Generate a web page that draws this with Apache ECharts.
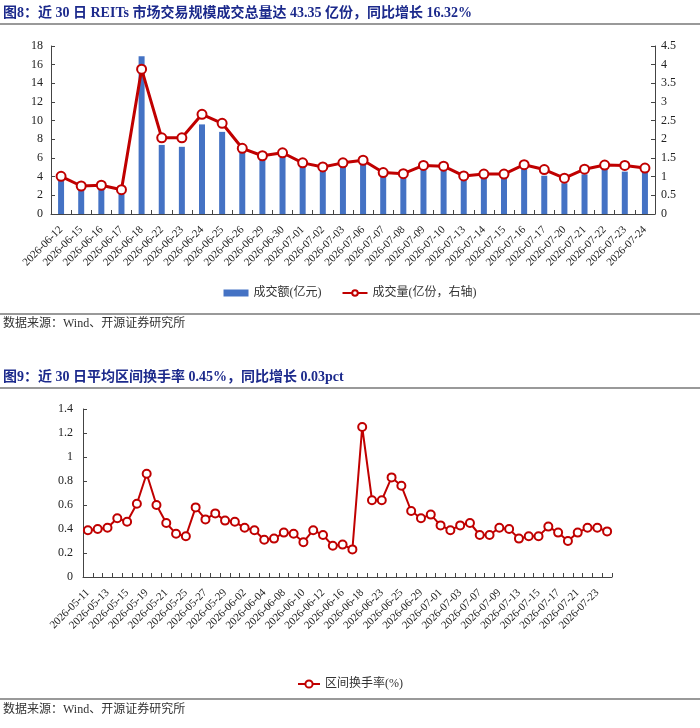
<!DOCTYPE html>
<html>
<head>
<meta charset="utf-8">
<script src="https://cdn.jsdelivr.net/npm/echarts@6/dist/echarts.min.js"></script>
<style>
html, body { margin: 0; padding: 0; background: #fff; }
#main { width: 700px; height: 728px; }
</style>
</head>
<body>
<div id="main"></div>
<script>
// 图8 数据
const dates1 = ['2026-06-12', '2026-06-15', '2026-06-16', '2026-06-17', '2026-06-18', '2026-06-22', '2026-06-23', '2026-06-24', '2026-06-25', '2026-06-26',
    '2026-06-29', '2026-06-30', '2026-07-01', '2026-07-02', '2026-07-03', '2026-07-06', '2026-07-07', '2026-07-08', '2026-07-09', '2026-07-10',
    '2026-07-13', '2026-07-14', '2026-07-15', '2026-07-16', '2026-07-17', '2026-07-20', '2026-07-21', '2026-07-22', '2026-07-23', '2026-07-24'];
const amount = [3.8, 2.9, 2.95, 2.5, 16.9, 7.4, 7.2, 9.6, 8.8, 6.6,
    5.9, 6.1, 5.2, 4.75, 5.2, 5.4, 4.2, 4.1, 5.0, 4.9,
    3.7, 4.1, 4.1, 5.0, 4.1, 3.3, 4.25, 4.86, 4.54, 4.64];
const volume = [1.01, 0.75, 0.77, 0.65, 3.88, 2.04, 2.04, 2.67, 2.43, 1.76,
    1.56, 1.64, 1.37, 1.26, 1.37, 1.44, 1.11, 1.08, 1.30, 1.28,
    1.02, 1.07, 1.07, 1.32, 1.19, 0.96, 1.2, 1.31, 1.30, 1.23];

// 图9 数据
const dates2 = ['2026-05-11', '2026-05-12', '2026-05-13', '2026-05-14', '2026-05-15', '2026-05-18', '2026-05-19', '2026-05-20', '2026-05-21', '2026-05-22',
    '2026-05-25', '2026-05-26', '2026-05-27', '2026-05-28', '2026-05-29', '2026-06-01', '2026-06-02', '2026-06-03', '2026-06-04', '2026-06-05',
    '2026-06-08', '2026-06-09', '2026-06-10', '2026-06-11', '2026-06-12', '2026-06-15', '2026-06-16', '2026-06-17', '2026-06-18', '2026-06-22',
    '2026-06-23', '2026-06-24', '2026-06-25', '2026-06-26', '2026-06-29', '2026-06-30', '2026-07-01', '2026-07-02', '2026-07-03', '2026-07-06',
    '2026-07-07', '2026-07-08', '2026-07-09', '2026-07-10', '2026-07-13', '2026-07-14', '2026-07-15', '2026-07-16', '2026-07-17', '2026-07-20',
    '2026-07-21', '2026-07-22', '2026-07-23', '2026-07-24'];
const turnover = [0.39, 0.40, 0.41, 0.49, 0.46, 0.61, 0.86, 0.60, 0.45, 0.36,
    0.34, 0.58, 0.48, 0.53, 0.47, 0.46, 0.41, 0.39, 0.31, 0.32,
    0.37, 0.36, 0.29, 0.39, 0.35, 0.26, 0.27, 0.23, 1.25, 0.64,
    0.64, 0.83, 0.76, 0.55, 0.49, 0.52, 0.43, 0.39, 0.43, 0.45,
    0.35, 0.35, 0.41, 0.40, 0.32, 0.34, 0.34, 0.42, 0.37, 0.30,
    0.37, 0.41, 0.41, 0.38];

const serif = "'Liberation Serif', 'Noto Sans CJK SC'";
const titleColor = '#1c2a8c';
const red = '#C00000';
const blue = '#4472C4';

const chart = echarts.init(document.querySelector('#main'));

// 公共坐标轴样式
const axisLine = { show: true, lineStyle: { color: '#444', width: 1 } };
const axisTick = { show: true, inside: true, length: 4, lineStyle: { color: '#444' } };
const yLabel = { color: '#222', fontFamily: serif, fontSize: 12 };
const xLabel = { rotate: 45, margin: 14, color: '#222', fontFamily: serif, fontSize: 11 };

chart.setOption({
    animation: false,
    title: [
        {
            text: '图8：近 30 日 REITs 市场交易规模成交总量达 43.35 亿份，同比增长 16.32%',
            left: 3,
            top: 6,
            padding: 0,
            textStyle: { color: titleColor, fontFamily: serif, fontSize: 14, fontWeight: 'bold' }
        },
        {
            text: '图9：近 30 日平均区间换手率 0.45%，同比增长 0.03pct',
            left: 3,
            top: 370,
            padding: 0,
            textStyle: { color: titleColor, fontFamily: serif, fontSize: 14, fontWeight: 'bold' }
        }
    ],
    graphic: [
        { type: 'line', shape: { x1: 0, y1: 24, x2: 700, y2: 24 }, style: { stroke: '#999', lineWidth: 2 } },
        { type: 'line', shape: { x1: 0, y1: 314, x2: 700, y2: 314 }, style: { stroke: '#999', lineWidth: 2 } },
        { type: 'line', shape: { x1: 0, y1: 388, x2: 700, y2: 388 }, style: { stroke: '#999', lineWidth: 2 } },
        { type: 'line', shape: { x1: 0, y1: 699, x2: 700, y2: 699 }, style: { stroke: '#999', lineWidth: 2 } },
        { type: 'text', left: 3, top: 318, style: { text: '数据来源：Wind、开源证券研究所', fill: '#333', font: "12px " + serif } },
        { type: 'text', left: 3, top: 704, style: { text: '数据来源：Wind、开源证券研究所', fill: '#333', font: "12px " + serif } }
    ],
    legend: [
        {
            left: 'center',
            top: 282,
            itemWidth: 25,
            itemHeight: 7,
            itemGap: 20,
            textStyle: { color: '#333', fontFamily: serif, fontSize: 12 },
            data: [
                { name: '成交额(亿元)', icon: 'rect' },
                { name: '成交量(亿份，右轴)' }
            ]
        },
        {
            left: 'center',
            top: 673,
            itemWidth: 22,
            itemHeight: 9,
            textStyle: { color: '#333', fontFamily: serif, fontSize: 12 },
            data: ['区间换手率(%)']
        }
    ],
    grid: [
        { left: 51, top: 46, width: 604, height: 168 },
        { left: 83, top: 409, width: 529, height: 168 }
    ],
    xAxis: [
        {
            type: 'category',
            gridIndex: 0,
            data: dates1,
            axisLine: axisLine,
            axisTick: { ...axisTick, interval: 0 },
            axisLabel: { ...xLabel, interval: 0 }
        },
        {
            type: 'category',
            gridIndex: 1,
            data: dates2,
            axisLine: axisLine,
            axisTick: { ...axisTick, interval: 0 },
            axisLabel: { ...xLabel, interval: 1 }
        }
    ],
    yAxis: [
        {
            type: 'value',
            gridIndex: 0,
            min: 0,
            max: 18,
            interval: 2,
            axisLine: axisLine,
            axisTick: axisTick,
            splitLine: { show: false },
            axisLabel: { ...yLabel, margin: 8 }
        },
        {
            type: 'value',
            gridIndex: 0,
            position: 'right',
            min: 0,
            max: 4.5,
            interval: 0.5,
            axisLine: axisLine,
            axisTick: axisTick,
            splitLine: { show: false },
            axisLabel: { ...yLabel, margin: 6 }
        },
        {
            type: 'value',
            gridIndex: 1,
            min: 0,
            max: 1.4,
            interval: 0.2,
            axisLine: axisLine,
            axisTick: axisTick,
            splitLine: { show: false },
            axisLabel: { ...yLabel, margin: 10 }
        }
    ],
    series: [
        {
            name: '成交额(亿元)',
            type: 'bar',
            xAxisIndex: 0,
            yAxisIndex: 0,
            data: amount,
            barWidth: 6,
            itemStyle: { color: blue }
        },
        {
            name: '成交量(亿份，右轴)',
            type: 'line',
            xAxisIndex: 0,
            yAxisIndex: 1,
            data: volume,
            symbol: 'circle',
            symbolSize: 9,
            showAllSymbol: true,
            lineStyle: { color: red, width: 3 },
            itemStyle: { color: '#fff', borderColor: red, borderWidth: 2 }
        },
        {
            name: '区间换手率(%)',
            type: 'line',
            xAxisIndex: 1,
            yAxisIndex: 2,
            data: turnover,
            symbol: 'circle',
            symbolSize: 8,
            showAllSymbol: true,
            lineStyle: { color: red, width: 2 },
            itemStyle: { color: '#fff', borderColor: red, borderWidth: 2 }
        }
    ]
});
</script>
</body>
</html>
